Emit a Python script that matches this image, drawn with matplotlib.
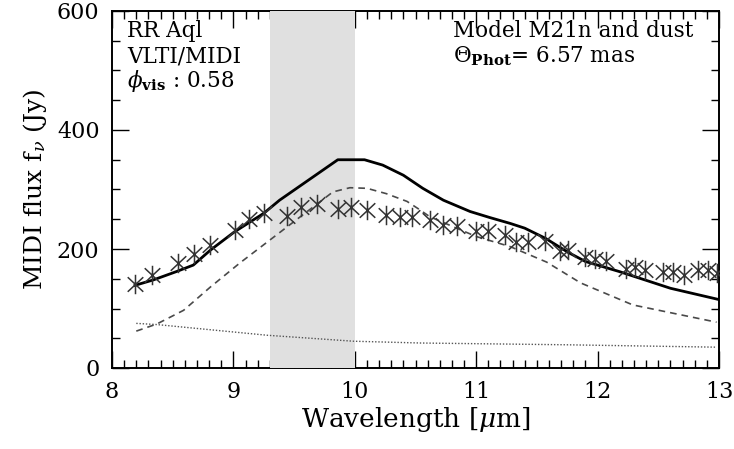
import matplotlib
matplotlib.use("Agg")
import matplotlib.pyplot as plt
from matplotlib.ticker import MultipleLocator
from matplotlib.path import Path

# Observed MIDI flux (asterisks)
wl_obs = [8.19, 8.33, 8.54, 8.675, 8.81, 9.01, 9.13, 9.25, 9.44, 9.56, 9.69, 9.86, 9.97,
          10.10, 10.26, 10.37, 10.47, 10.62, 10.73, 10.84, 11.0, 11.10, 11.24, 11.33,
          11.43, 11.57, 11.69, 11.76, 11.90, 11.98, 12.07, 12.23, 12.31, 12.39, 12.54,
          12.62, 12.71, 12.83, 12.91, 12.98]
flux_obs = [141, 157, 176, 191, 207, 232, 250, 261, 255, 271, 275, 268, 271,
            265, 257, 254, 254, 249, 240, 238, 231, 231, 223, 212,
            211, 214, 197, 198, 186, 183, 180, 167, 170, 165, 162,
            162, 156, 165, 165, 159]

# Model M21n + dust (solid)
wl_total = [8.19, 8.34, 8.53, 8.67, 8.81, 9.01, 9.25, 9.38, 9.86, 10.08, 10.23, 10.40,
            10.56, 10.73, 10.95, 11.11, 11.28, 11.4, 11.57, 11.76, 11.9, 12.18, 12.6, 13.0]
flux_total = [139, 148, 162, 173, 198, 229, 260, 282, 350, 350, 341, 324,
              302, 282, 263, 253, 243, 235, 218, 194, 179, 162, 134, 115]

# Stellar model (dashed)
wl_star = [8.2, 8.37, 8.59, 8.81, 9.05, 9.3, 9.55, 9.82, 9.96, 10.10, 10.26, 10.43,
           10.52, 10.62, 11.0, 11.28, 11.58, 11.86, 12.29, 12.98]
flux_star = [62, 74, 97, 136, 176, 215, 254, 296, 303, 302, 293, 280,
             268, 254, 221, 204, 178, 143, 106, 77]

# Dust shell (dotted)
wl_dust = [8.2, 8.37, 9.28, 9.99, 10.54, 11.75, 12.98]
flux_dust = [75, 73, 55, 45, 42, 39, 35]

band = (9.3, 10.0)

plt.rcParams['font.family'] = ['DejaVu Serif']
plt.rcParams['mathtext.fontset'] = 'dejavuserif'

# asterisk marker: vertical bar plus an X
ast = Path([(0, -1), (0, 1), (-0.8, -0.75), (0.8, 0.75), (-0.8, 0.75), (0.8, -0.75)],
           [Path.MOVETO, Path.LINETO, Path.MOVETO, Path.LINETO, Path.MOVETO, Path.LINETO])

fig = plt.figure(figsize=(7.34, 4.49), dpi=100)
ax = fig.add_axes([112/734, (449-368)/449, 607/734, 357/449])

ax.axvspan(band[0], band[1], color='#e0e0e0', lw=0, zorder=3)
ax.plot(wl_total, flux_total, color='black', lw=2.0, zorder=5)
ax.plot(wl_star, flux_star, color='#4a4a4a', lw=1.2, ls=(0, (4, 3)), zorder=5)
ax.plot(wl_dust, flux_dust, color='#555555', lw=1.0, ls=(0, (1, 1.3)), zorder=5)
ax.plot(wl_obs, flux_obs, ls='none', marker=ast, ms=14, mew=1.1,
        color='#333333', zorder=6)

ax.set_xlim(8, 13)
ax.set_ylim(0, 600)
ax.xaxis.set_major_locator(MultipleLocator(1))
ax.xaxis.set_minor_locator(MultipleLocator(0.1))
ax.yaxis.set_major_locator(MultipleLocator(200))
ax.yaxis.set_minor_locator(MultipleLocator(50))
ax.tick_params(which='both', direction='in', top=True, right=True, width=1.0,
               labelsize=16)
ax.tick_params(which='major', length=12, pad=9)
ax.tick_params(which='minor', length=6)
for s in ax.spines.values():
    s.set_linewidth(1.4)

ax.set_xlabel(r'Wavelength [$\mu$m]', fontsize=19, labelpad=2)
ax.set_ylabel(r'MIDI flux f$_\nu$ (Jy)', fontsize=18, labelpad=6)

tx = ax.transAxes
fs = 15.5
ax.text(0.025, 0.927, 'RR Aql', transform=tx, fontsize=fs, zorder=7)
ax.text(0.025, 0.855, 'VLTI/MIDI', transform=tx, fontsize=fs, zorder=7)
ax.text(0.025, 0.788, r'$\phi_{\mathbf{vis}}$ : 0.58', transform=tx, fontsize=fs, zorder=7)
ax.text(0.562, 0.927, 'Model M21n and dust', transform=tx, fontsize=fs, zorder=7)
ax.text(0.562, 0.857, r'$\Theta_{\mathbf{Phot}}$= 6.57 mas', transform=tx, fontsize=fs, zorder=7)

fig.savefig('out.png', dpi=100)
